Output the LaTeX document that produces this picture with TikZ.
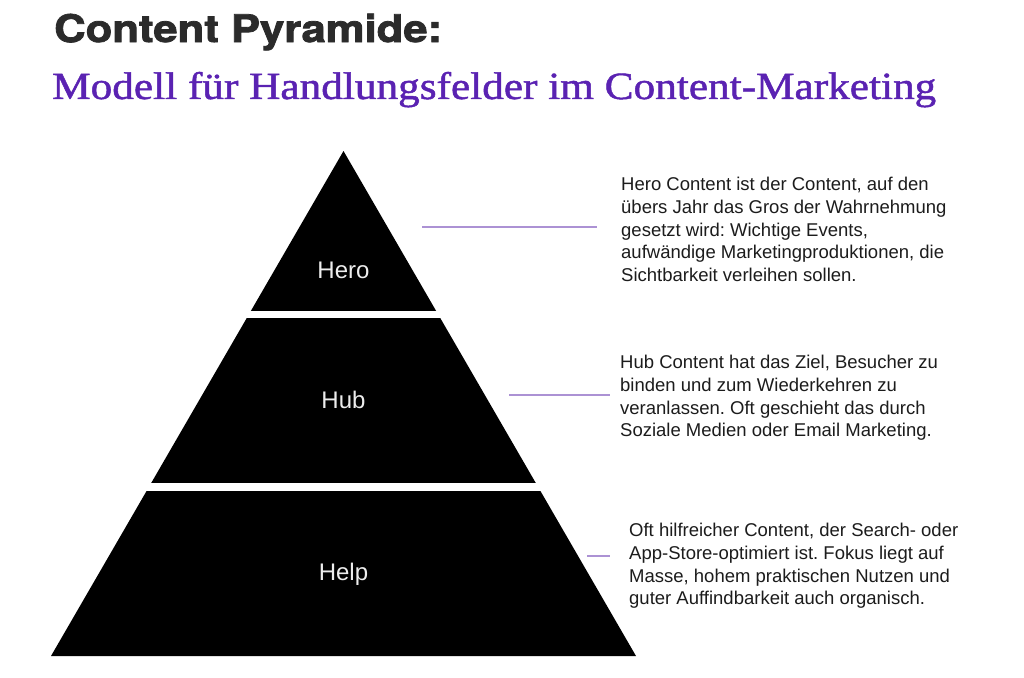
\documentclass[tikz,border=0pt]{standalone}
\usepackage{graphicx}
\usepackage{fontspec}
\setmainfont{Liberation Sans}
\newfontfamily\headfont[FakeBold=2]{TeX Gyre Heros}
\newfontfamily\subfont[FakeBold=1.2]{Liberation Serif}
\usetikzlibrary{calc}
\frenchspacing
\definecolor{titlegray}{HTML}{2B2B2B}
\definecolor{subpurple}{RGB}{90,34,178}
\definecolor{linepurple}{RGB}{172,146,212}
\definecolor{labelgray}{HTML}{EDEDED}
\definecolor{bodyblack}{HTML}{1C1C1C}
\begin{document}
\begin{tikzpicture}[x=1pt,y=-1pt,
  tier/.style={fill=black},
  tierlabel/.style={text=labelgray,font=\fontsize{24}{24}\selectfont,inner sep=0},
  conn/.style={draw=linepurple,line width=1.2pt},
  body/.style={text=bodyblack,font=\fontsize{18.5}{22.7}\selectfont,align=left,anchor=north west,inner sep=0}]
\fill[white] (0,0) rectangle (1024,677);
\useasboundingbox (0,0) rectangle (1024,677);
% heading
\node[anchor=base west,inner sep=0,text=titlegray] (title) at (54,42)
  {\resizebox{388pt}{\height}{\headfont\bfseries\fontsize{38}{38}\selectfont Content Pyramide:}};
\node[anchor=base west,inner sep=0,text=subpurple] (subtitle) at (52,99)
  {\resizebox{884pt}{\height}{\subfont\fontsize{38.5}{38.5}\selectfont Modell für Handlungsfelder im Content-Marketing}};
% pyramid
\coordinate (apex) at (343.5,151);
\coordinate (baseL) at (51,656);
\coordinate (baseR) at (636,656);
\fill[tier] (apex) -- ($(apex)!0.3168!(baseR)$) -- ($(apex)!0.3168!(baseL)$) -- cycle;
\fill[tier] ($(apex)!0.3307!(baseL)$) -- ($(apex)!0.3307!(baseR)$) -- ($(apex)!0.6574!(baseR)$) -- ($(apex)!0.6574!(baseL)$) -- cycle;
\fill[tier] ($(apex)!0.6733!(baseL)$) -- ($(apex)!0.6733!(baseR)$) -- (baseR) -- (baseL) -- cycle;
\node[tierlabel] (hero) at (343.5,270) {Hero};
\node[tierlabel] (hub) at (343.5,400) {Hub};
\node[tierlabel] (help) at (343.5,574) {Help};
% descriptions
\node[body] (heroT) at (621,177) {Hero Content ist der Content, auf den\\übers Jahr das Gros der Wahrnehmung\\gesetzt wird: Wichtige Events,\\aufwändige Marketingproduktionen, die\\Sichtbarkeit verleihen sollen.};
\node[body] (hubT) at (620,355) {Hub Content hat das Ziel, Besucher zu\\binden und zum Wiederkehren zu\\veranlassen. Oft geschieht das durch\\Soziale Medien oder Email Marketing.};
\node[body] (helpT) at (629,523) {Oft hilfreicher Content, der Search- oder\\App-Store-optimiert ist. Fokus liegt auf\\Masse, hohem praktischen Nutzen und\\guter Auffindbarkeit auch organisch.};
% leader lines
\coordinate (heroA) at (422,227);
\coordinate (heroB) at (597,227);
\coordinate (hubA) at (509,395);
\coordinate (hubB) at (610,395);
\coordinate (helpA) at (587,556);
\coordinate (helpB) at (610,556);
\draw[conn] (heroA) -- (heroB);
\draw[conn] (hubA) -- (hubB);
\draw[conn] (helpA) -- (helpB);
\end{tikzpicture}
\end{document}
